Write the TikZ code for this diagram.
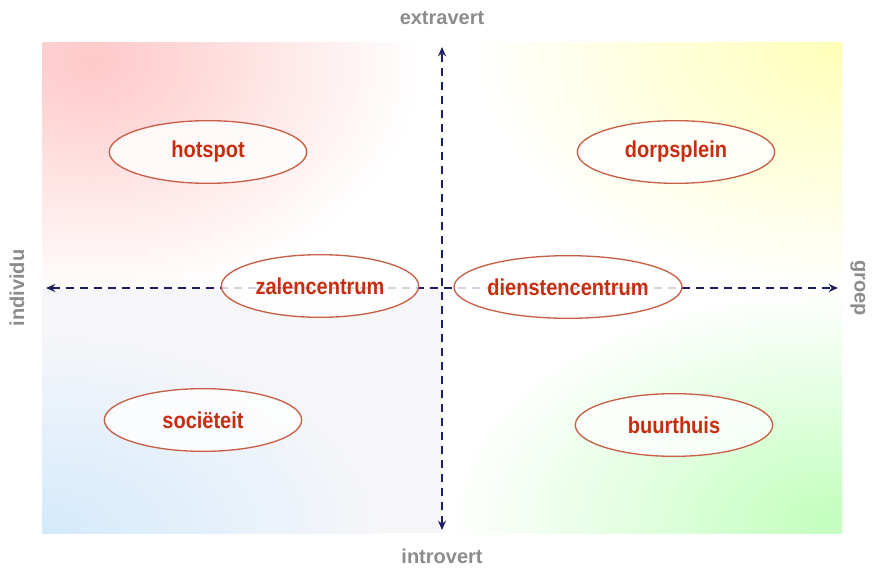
\documentclass[tikz,border=0pt]{standalone}
\usepackage{fontspec}
\setmainfont{Liberation Sans}
\newfontfamily\narrowfont[FakeStretch=0.87]{Liberation Sans}
\usepackage{xcolor}
\usetikzlibrary{shapes.geometric,arrows.meta}

\definecolor{axisblue}{RGB}{30,30,100}
\definecolor{labelgray}{RGB}{140,140,140}
\definecolor{placered}{RGB}{200,45,15}
\definecolor{ringred}{RGB}{200,95,70}
\definecolor{pinkcorner}{RGB}{255,200,200}
\definecolor{yellowcorner}{RGB}{255,255,185}
\definecolor{bluecorner}{RGB}{212,234,252}
\definecolor{greencorner}{RGB}{195,255,190}
\definecolor{lightgray}{RGB}{246,246,249}

\tikzset{
  place/.style={ellipse, draw=ringred, line width=1pt, fill=white, fill opacity=0.8,
    text opacity=1, text=placered, inner sep=0pt, minimum width=148pt,
    minimum height=47pt, font=\narrowfont\bfseries\fontsize{17.25}{20}\selectfont},
  axislabel/.style={text=labelgray, font=\bfseries\fontsize{15}{18}\selectfont},
  axisline/.style={axisblue, line width=1.8pt, dash pattern=on 6.5pt off 4pt,
    {Stealth[length=7pt,width=6pt]}-{Stealth[length=7pt,width=6pt]}}
}

\begin{document}
\begin{tikzpicture}[x=0.75pt, y=-0.75pt]
    \useasboundingbox (0,0) rectangle (874,570);

    % Quadrant backgrounds
    \fill[lightgray] (42,288) rectangle (442,533);
    \begin{scope}
      \clip (42,43) rectangle (442,288);
      \shade[inner color=pinkcorner, outer color=white] (90,60) ellipse [x radius=330, y radius=240];
    \end{scope}
    \begin{scope}
      \clip (442,43) rectangle (842,288);
      \shade[inner color=yellowcorner, outer color=white] (842,43) ellipse [x radius=370, y radius=250];
    \end{scope}
    \begin{scope}
      \clip (42,288) rectangle (442,533);
      \shade[inner color=bluecorner, outer color=lightgray] (42,533) ellipse [x radius=340, y radius=200];
    \end{scope}
    \begin{scope}
      \clip (442,288) rectangle (842,533);
      \shade[inner color=greencorner, outer color=white] (830,520) ellipse [x radius=380, y radius=230];
    \end{scope}

    % Axis end points
    \coordinate (west) at (46,288);
    \coordinate (east) at (838,288);
    \coordinate (north) at (442,47);
    \coordinate (south) at (442,530);

    % Draw the axes
    \draw[axisline] (west) -- (east);
    \draw[axisline] (south) -- (north);

    % Axis labels
    \node[axislabel] (extravert) at (442,18) {extravert};
    \node[axislabel] (introvert) at (442,556) {introvert};
    \node[axislabel, rotate=90] (individu) at (17,288) {individu};
    \node[axislabel, rotate=-90] (groep) at (858,288) {groep};

    % Places
    \node[place] (hotspot) at (208,152) {hotspot};
    \node[place] (dorpsplein) at (676,152) {dorpsplein};
    \node[place] (zalencentrum) at (320,286) {zalencentrum};
    \node[place] (dienstencentrum) at (568,287) {dienstencentrum};
    \node[place] (societeit) at (203,420) {sociëteit};
    \node[place] (buurthuis) at (674,425) {buurthuis};
\end{tikzpicture}
\end{document}
